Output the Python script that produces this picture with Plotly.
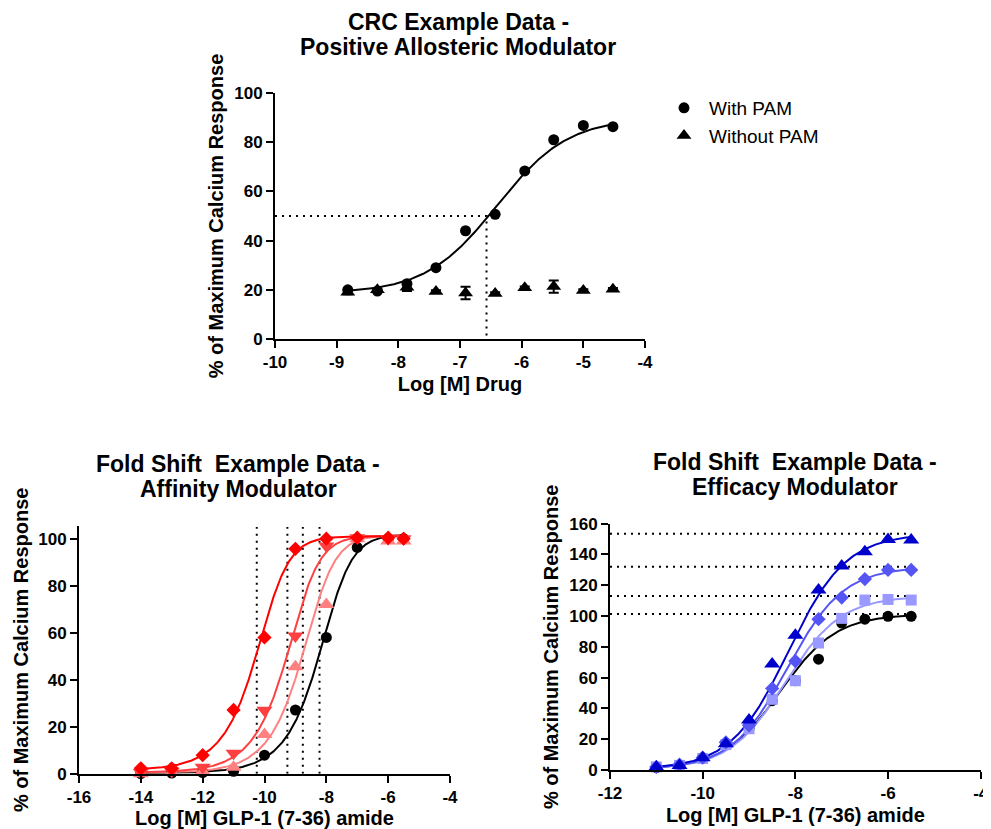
import numpy as np
import plotly.graph_objects as go

# ---------------- DATA ----------------
# Top chart: CRC example data (positive allosteric modulator)
crc_x = [-8.82, -8.34, -7.86, -7.39, -6.91, -6.43, -5.95, -5.48, -5.0, -4.52]
crc_with_pam = [20.0, 19.5, 22.5, 29.0, 44.0, 50.7, 68.3, 81.0, 86.8, 86.3]
crc_without_pam = [19.0, 20.0, 21.0, 19.3, 18.7, 18.5, 20.8, 21.3, 19.7, 20.2]
crc_without_err = [0.8, 0.5, 1.5, 0.5, 2.5, 0.5, 0.5, 2.5, 0.5, 0.5]
crc_fit = dict(bottom=18.5, top=90.0, logec50=-6.4, hill=0.75)
crc_ref_x = -6.57   # log EC50 marker
crc_ref_y = 50.0
crc_xticks = [-10, -9, -8, -7, -6, -5, -4]
crc_yticks = [0, 20, 40, 60, 80, 100]

# Bottom-left: fold shift, affinity modulator
aff_x = [-14, -13, -12, -11, -10, -9, -8, -7, -6, -5.5]
aff_names = ["Control", "Modulator low", "Modulator mid", "Modulator high"]
aff_y = [
    [0.0, 0.3, 0.5, 1.0, 7.9, 27.1, 58.0, 96.3, 100.0, 100.0],
    [0.0, 0.5, 1.0, 2.7, 16.7, 45.5, 72.0, 100.0, 99.0, 99.0],
    [0.5, 1.0, 2.7, 8.7, 27.0, 58.6, 96.9, 100.4, 100.0, 100.0],
    [2.3, 2.3, 7.9, 27.1, 58.0, 95.7, 100.0, 100.4, 100.4, 100.0],
]
aff_x50 = [-8.22, -8.76, -9.26, -10.25]
aff_bottom = [0.3, 0.3, 0.5, 1.5]
aff_top = [101.8, 101.5, 101.3, 101.0]
aff_hill = 1.0
aff_asym = 0.55
aff_xticks = [-16, -14, -12, -10, -8, -6, -4]
aff_yticks = [0, 20, 40, 60, 80, 100]

# Bottom-right: fold shift, efficacy modulator
eff_x = [-11, -10.5, -10, -9.5, -9, -8.5, -8, -7.5, -7, -6.5, -6, -5.5]
eff_names = ["Control", "Modulator low", "Modulator mid", "Modulator high"]
eff_y = [
    [1.5, 3.0, 8.0, 17.0, 27.0, 45.0, 58.0, 72.0, 95.5, 98.0, 99.8, 99.8],
    [2.0, 3.0, 7.5, 16.5, 26.8, 45.9, 58.0, 82.5, 98.5, 110.4, 110.8, 110.4],
    [2.0, 3.5, 8.0, 18.0, 29.0, 53.0, 70.8, 98.0, 112.0, 124.0, 130.0, 130.0],
    [2.0, 3.0, 8.0, 17.0, 32.5, 68.8, 87.5, 117.0, 132.5, 141.8, 149.8, 149.4],
]
eff_top = [101.3, 113.0, 132.0, 153.5]
eff_logec50 = [-8.33, -8.22, -8.17, -8.15]
eff_hill = [0.72, 0.72, 0.72, 0.70]
eff_bottom = [0.5, 0.5, 0.5, 0.5]
eff_xticks = [-12, -10, -8, -6, -4]
eff_yticks = [0, 20, 40, 60, 80, 100, 120, 140, 160]

# ---------------- STYLE ----------------
FONT = "Arial, Liberation Sans, sans-serif"
aff_colors = ["#000000", "#ff8080", "#ff4040", "#ff0000"]
aff_symbols = ["circle", "triangle-up", "triangle-down", "diamond"]
aff_sizes = [11, 14, 14, 11]
eff_colors = ["#000000", "#9999ff", "#5555f5", "#0000cc"]
eff_symbols = ["circle", "square", "diamond", "triangle-up"]
eff_sizes = [11, 11, 11, 14]
DOT = "2px,5px"


def logistic4(x, bottom, top, logec50, hill):
    x = np.asarray(x)
    return bottom + (top - bottom) / (1 + 10 ** ((logec50 - x) * hill))


def logistic5(x, bottom, top, x50, hill, s):
    x = np.asarray(x)
    c = x50 + np.log10(2 ** (1 / s) - 1) / hill
    return bottom + (top - bottom) / (1 + 10 ** ((c - x) * hill)) ** s


fig = go.Figure()

# ---- top chart ----
xs = np.linspace(min(crc_x), max(crc_x), 300)
fig.add_trace(go.Scatter(x=[crc_xticks[0], crc_ref_x, crc_ref_x], y=[crc_ref_y, crc_ref_y, 0],
                         mode="lines", line=dict(color="black", width=2, dash=DOT),
                         showlegend=False, hoverinfo="skip", xaxis="x", yaxis="y"))
fig.add_trace(go.Scatter(x=xs, y=logistic4(xs, **crc_fit), mode="lines",
                         line=dict(color="black", width=2), showlegend=False,
                         xaxis="x", yaxis="y", hoverinfo="skip"))
fig.add_trace(go.Scatter(x=crc_x, y=crc_without_pam, mode="markers", name="Without PAM",
                         marker=dict(symbol="triangle-up", size=13, color="black"),
                         error_y=dict(type="data", array=crc_without_err, color="black",
                                      thickness=2, width=5),
                         cliponaxis=False, xaxis="x", yaxis="y", legendrank=2))
fig.add_trace(go.Scatter(x=crc_x, y=crc_with_pam, mode="markers", name="With PAM",
                         marker=dict(symbol="circle", size=11, color="black"),
                         cliponaxis=False, xaxis="x", yaxis="y", legendrank=1))

# ---- bottom-left ----
xs2 = np.linspace(min(aff_x), max(aff_x), 400)
for i in range(4):
    fig.add_trace(go.Scatter(x=[aff_x50[i], aff_x50[i]], y=[0, 105], mode="lines",
                             line=dict(color="black", width=2, dash=DOT),
                             showlegend=False, hoverinfo="skip", xaxis="x2", yaxis="y2"))
for i in range(4):
    fig.add_trace(go.Scatter(x=xs2, y=logistic5(xs2, aff_bottom[i], aff_top[i], aff_x50[i], aff_hill, aff_asym),
                             mode="lines", line=dict(color=aff_colors[i], width=2),
                             showlegend=False, hoverinfo="skip", xaxis="x2", yaxis="y2"))
for i in range(4):
    fig.add_trace(go.Scatter(x=aff_x, y=aff_y[i], mode="markers", name=aff_names[i],
                             marker=dict(symbol=aff_symbols[i], size=aff_sizes[i], color=aff_colors[i]),
                             showlegend=False, cliponaxis=False, xaxis="x2", yaxis="y2"))

# ---- bottom-right ----
xs3 = np.linspace(min(eff_x), max(eff_x), 400)
for i in range(4):
    fig.add_trace(go.Scatter(x=[eff_xticks[0], max(eff_x)], y=[eff_top[i], eff_top[i]], mode="lines",
                             line=dict(color="black", width=2, dash=DOT),
                             showlegend=False, hoverinfo="skip", xaxis="x3", yaxis="y3"))
for i in range(4):
    fig.add_trace(go.Scatter(x=xs3, y=logistic4(xs3, eff_bottom[i], eff_top[i], eff_logec50[i], eff_hill[i]),
                             mode="lines", line=dict(color=eff_colors[i], width=2),
                             showlegend=False, hoverinfo="skip", xaxis="x3", yaxis="y3"))
for i in range(4):
    fig.add_trace(go.Scatter(x=eff_x, y=eff_y[i], mode="markers", name=eff_names[i],
                             marker=dict(symbol=eff_symbols[i], size=eff_sizes[i], color=eff_colors[i]),
                             showlegend=False, cliponaxis=False, xaxis="x3", yaxis="y3"))

# page body has an 8px margin; the figure is sized to fill the rest of the window
OFF = 8
W, H = 991 - OFF, 829 - OFF


def px_x(p):
    return (p - OFF) / W


def px_y(p):
    return 1 - (p - OFF) / H


tickfont = dict(family=FONT, size=17, color="black", weight="bold")
titlefont = dict(family=FONT, size=20, color="black", weight="bold")


def axis(domain, ticks, title, anchor, standoff, rng=None):
    return dict(domain=domain, range=rng if rng else [ticks[0], ticks[-1]],
                tickmode="array", tickvals=ticks, ticktext=[f"{t:g}" for t in ticks],
                showline=True, linecolor="black", automargin=False,
                linewidth=2, ticks="outside", ticklen=7, tickwidth=2, tickcolor="black",
                showgrid=False, zeroline=False, tickfont=tickfont, anchor=anchor,
                title=dict(text=title, font=titlefont, standoff=standoff), fixedrange=True)


def title_lines(lines, xc, ytop, gap=25):
    out = []
    for k, t in enumerate(lines):
        out.append(dict(text=t, x=px_x(xc), y=px_y(ytop + k * gap), xref="paper", yref="paper",
                        xanchor="center", yanchor="middle", showarrow=False,
                        font=dict(family=FONT, size=23, color="black", weight="bold")))
    return out


ylabel = "% of Maximum Calcium Response"
annotations = (title_lines(["CRC Example Data -", "Positive Allosteric Modulator"], 458, 22)
               + title_lines(["Fold Shift  Example Data -", "Affinity Modulator"], 238, 464)
               + title_lines(["Fold Shift  Example Data -", "Efficacy Modulator"], 795, 462))

fig.update_layout(
    width=W, height=H, margin=dict(l=0, r=0, t=0, b=0, autoexpand=False),
    paper_bgcolor="white", plot_bgcolor="white",
    font=dict(family=FONT, color="black"),
    xaxis=axis([px_x(275), px_x(645)], crc_xticks, "Log [M] Drug", "y", 6),
    yaxis=axis([px_y(339), px_y(93)], crc_yticks, ylabel, "x", 5),
    xaxis2=axis([px_x(79), px_x(450)], aff_xticks, "Log [M] GLP-1 (7-36) amide", "y2", 6),
    yaxis2=axis([px_y(773.7), px_y(526)], aff_yticks, ylabel, "x2", 4, rng=[0, 105.4]),
    xaxis3=axis([px_x(610), px_x(980.7)], eff_xticks, "Log [M] GLP-1 (7-36) amide", "y3", 6),
    yaxis3=axis([px_y(770), px_y(523.7)], eff_yticks, ylabel, "x3", 5),
    legend=dict(x=px_x(659), y=px_y(89), xanchor="left", yanchor="top",
                font=dict(family=FONT, size=19, color="black"), bgcolor="rgba(0,0,0,0)",
                itemwidth=40, tracegroupgap=0),
    showlegend=True,
    annotations=annotations,
)

fig.write_html("out.html")
